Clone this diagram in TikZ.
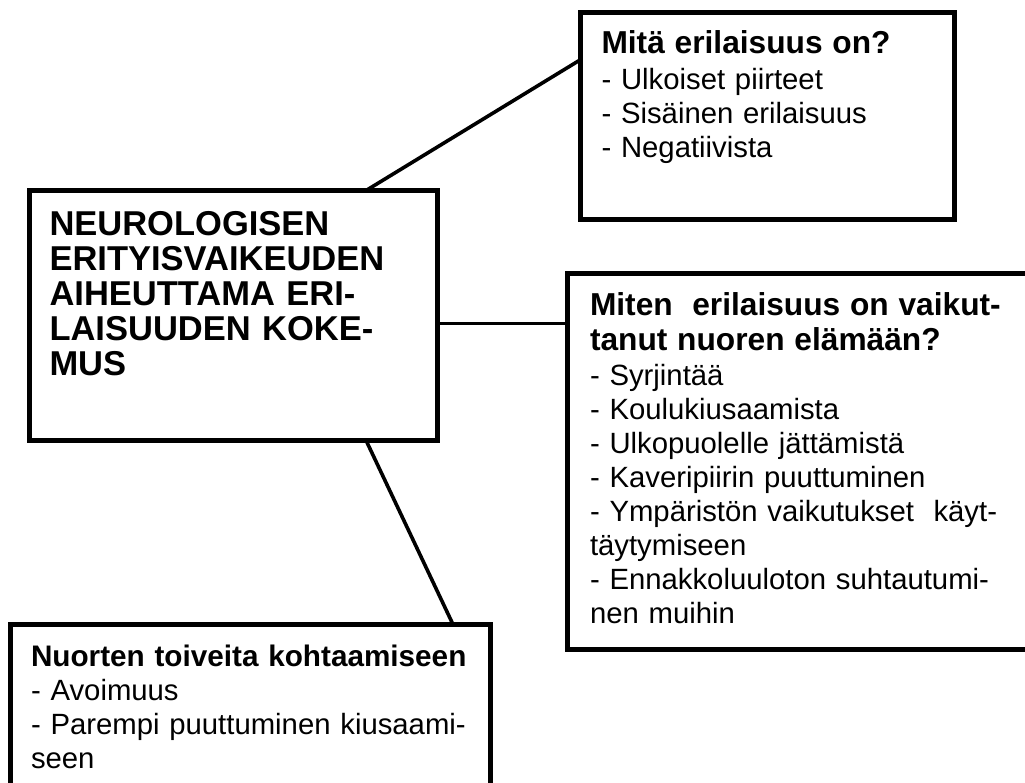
\documentclass[tikz,border=0pt]{standalone}
\usepackage{fontspec}
\setmainfont{Liberation Sans}
\usetikzlibrary{calc}
\newcommand{\boxtitle}{\fontsize{31.7}{35}\selectfont\bfseries}
\newcommand{\wishtitle}{\fontsize{29.7}{34}\selectfont\bfseries}
\tikzset{
  box/.style={draw, line width=5pt, rectangle, align=left, anchor=north west,
    inner ysep=0pt, outer sep=0pt, font=\fontsize{29.3}{34}\selectfont},
  link/.style={line width=3.6pt}
}

\begin{document}
\begin{tikzpicture}[x=1pt,y=-1pt]
  \path[fill=white, use as bounding box] (0,0) rectangle (1025,782);
  \clip (0,0) rectangle (1025,782);
  \node[box, inner xsep=21.5pt, text width=331pt, text height=40.5pt, text depth=166pt] (what) at (580,12.5)
    {{\boxtitle Mitä erilaisuus on?}\\[2pt]
     - Ulkoiset piirteet\\
     - Sisäinen erilaisuus\\
     - Negatiivista};
  \node[box, inner xsep=20pt, text width=368pt, text height=44.5pt, text depth=205.5pt,
    font=\fontsize{34.5}{35}\selectfont\bfseries] (cen) at (29.5,190.5)
    {NEUROLOGISEN\\
     ERITYISVAIKEUDEN\\
     AIHEUTTAMA ERI-\\
     LAISUUDEN KOKE-\\
     MUS};
  \node[box, inner xsep=23pt, text width=432pt, text height=41.5pt, text depth=334.5pt] (how) at (567,273.5)
    {{\boxtitle Miten\ \ erilaisuus on vaikut-}\\[1pt]
     {\boxtitle tanut nuoren elämään?}\\[1pt]
     - Syrjintää\\
     - Koulukiusaamista\\
     - Ulkopuolelle jättämistä\\
     - Kaveripiirin puuttuminen\\
     - Ympäristön vaikutukset\ \ käyt-\\
     täytymiseen\\
     - Ennakkoluuloton suhtautumi-\\
     nen muihin};
  \node[box, inner xsep=21pt, text width=438.5pt, text height=41.5pt, text depth=150pt] (wish) at (10,624.5)
    {{\wishtitle Nuorten toiveita kohtaamiseen}\\
     - Avoimuus\\
     - Parempi puuttuminen kiusaami-\\
     seen};
  \draw[link] ($(cen.north west)!0.825!(cen.north east)$) -- ($(what.north west)!0.23!(what.south west)$);
  \draw[link] ($(cen.north east)!0.532!(cen.south east)$) coordinate (mid) -- (mid -| how.west);
  \draw[link] ($(cen.south west)!0.825!(cen.south east)$) -- ($(wish.north west)!0.922!(wish.north east)$);
\end{tikzpicture}
\end{document}
